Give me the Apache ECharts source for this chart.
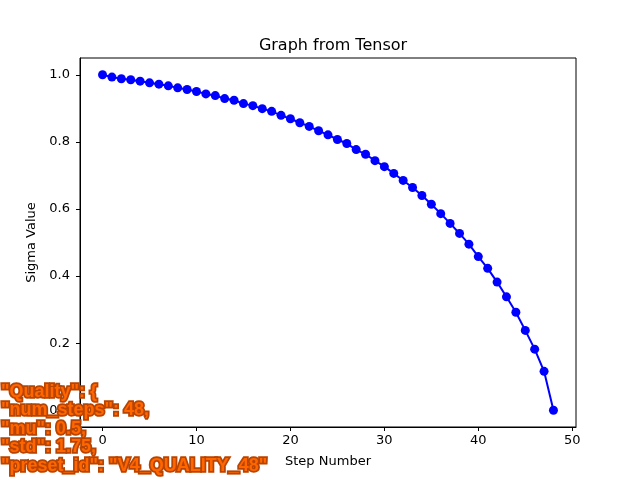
<!DOCTYPE html>
<html>
<head>
<meta charset="utf-8">
<script src="https://cdn.jsdelivr.net/npm/echarts@6/dist/echarts.min.js"></script>
<style>
  html, body { margin: 0; padding: 0; background: #fff; }
  #chart { width: 640px; height: 480px; }
</style>
</head>
<body>
<div id="chart"></div>
<script>
// sigma values, one per step 0..48
const steps = Array.from({ length: 49 }, (_, i) => i)
const sigmas = [
  1.000, 0.993, 0.988, 0.985, 0.981, 0.976, 0.972, 0.967, 0.961, 0.956,
  0.950, 0.943, 0.938, 0.929, 0.924, 0.914, 0.908, 0.899, 0.891, 0.879,
  0.869, 0.857, 0.846, 0.833, 0.821, 0.807, 0.795, 0.777, 0.763, 0.744,
  0.726, 0.706, 0.685, 0.664, 0.640, 0.614, 0.586, 0.557, 0.527, 0.495,
  0.458, 0.423, 0.382, 0.338, 0.292, 0.238, 0.182, 0.116, 0.000
]
const xTicks = [0, 10, 20, 30, 40, 50]
const yTicks = [0, 0.2, 0.4, 0.6, 0.8, 1.0]
const overlayLines = [
  '"Quality": {',
  '"num_steps": 48,',
  '"mu": 0.5,',
  '"std": 1.75,',
  '"preset_id": "V4_QUALITY_48"'
]

const font = 'DejaVu Sans'
const chart = echarts.init(document.getElementById('chart'), null, { renderer: 'canvas' })

chart.setOption({
  animation: false,
  backgroundColor: '#fff',
  title: {
    text: 'Graph from Tensor',
    left: 328,
    top: 33,
    textAlign: 'center',
    textStyle: { fontFamily: font, fontSize: 16, fontWeight: 'normal', color: '#000' }
  },
  grid: {
    left: 80, right: 64, top: 58, bottom: 53,
    show: true, borderColor: '#000', borderWidth: 1, backgroundColor: 'transparent'
  },
  xAxis: {
    type: 'value',
    min: -2.4,
    max: 50.4,
    name: 'Step Number',
    nameLocation: 'middle',
    nameGap: 28,
    nameTextStyle: { fontFamily: font, fontSize: 13, color: '#000' },
    splitLine: { show: false },
    axisLine: { show: true, onZero: false, lineStyle: { color: '#000', width: 1 } },
    axisTick: { show: true, length: 4, customValues: xTicks, lineStyle: { color: '#000', width: 1 } },
    axisLabel: {
      customValues: xTicks,
      fontFamily: font, fontSize: 13, color: '#000', margin: 7
    }
  },
  yAxis: {
    type: 'value',
    min: -0.05,
    max: 1.05,
    name: 'Sigma Value',
    nameLocation: 'middle',
    nameGap: 41,
    nameTextStyle: { fontFamily: font, fontSize: 13, color: '#000' },
    splitLine: { show: false },
    axisLine: { show: true, onZero: false, lineStyle: { color: '#000', width: 1 } },
    axisTick: { show: true, length: 4, customValues: yTicks, lineStyle: { color: '#000', width: 1 } },
    axisLabel: {
      customValues: yTicks,
      formatter: v => v.toFixed(1),
      fontFamily: font, fontSize: 13, color: '#000', margin: 10
    }
  },
  series: [{
    type: 'line',
    data: steps.map((s, i) => [s, sigmas[i]]),
    symbol: 'circle',
    symbolSize: 9,
    showAllSymbol: true,
    lineStyle: { color: '#0000ff', width: 2 },
    itemStyle: { color: '#0000ff' }
  }],
  // orange annotation block over the bottom-left corner
  graphic: overlayLines.map((t, i) => ({
    type: 'text',
    x: 1,
    y: 392 + i * 18.5,
    z: 100,
    style: {
      text: t,
      fontFamily: 'Liberation Sans',
      fontSize: 18,
      fontWeight: 'bold',
      verticalAlign: 'middle',
      fill: '#ff6600',
      stroke: '#b84400',
      lineWidth: 3.5
    }
  }))
})
</script>
</body>
</html>
